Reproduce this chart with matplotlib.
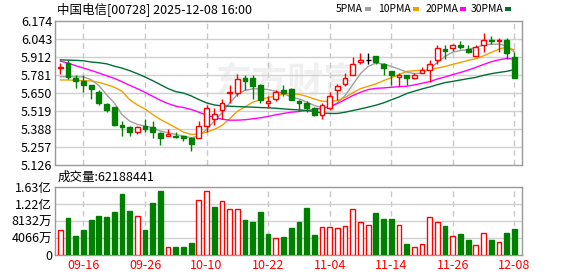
import matplotlib
matplotlib.use('Agg')
import matplotlib.pyplot as plt
from matplotlib.patches import Rectangle

plt.rcParams['font.family'] = ['Noto Sans CJK SC', 'DejaVu Sans']

# trading days shown (HK, 0728)
dates = ['09-11', '09-12', '09-15', '09-16', '09-17', '09-18', '09-19', '09-22',
         '09-23', '09-24', '09-25', '09-26', '09-29', '09-30', '10-02', '10-03',
         '10-06', '10-08', '10-09', '10-10', '10-13', '10-14', '10-15', '10-16',
         '10-17', '10-20', '10-21', '10-22', '10-23', '10-24', '10-27', '10-28',
         '10-30', '10-31', '11-03', '11-04', '11-05', '11-06', '11-07', '11-10',
         '11-11', '11-12', '11-13', '11-14', '11-17', '11-18', '11-19', '11-20',
         '11-21', '11-24', '11-25', '11-26', '11-27', '11-28', '12-01', '12-02',
         '12-03', '12-04', '12-05', '12-08']
tick_dates = ['09-16', '09-26', '10-10', '10-22', '11-04', '11-14', '11-26', '12-08']

opens = [5.83, 5.87, 5.76, 5.74, 5.71, 5.66, 5.57, 5.55, 5.42, 5.40,
         5.37, 5.41, 5.40, 5.36, 5.34, 5.34, 5.34, 5.32, 5.32, 5.41,
         5.46, 5.53, 5.65, 5.65, 5.76, 5.76, 5.71, 5.58, 5.61, 5.67,
         5.68, 5.59, 5.58, 5.54, 5.49, 5.54, 5.67, 5.72, 5.78, 5.88,
         5.89, 5.92, 5.86, 5.81, 5.77, 5.78, 5.76, 5.80, 5.82, 5.89,
         5.97, 5.98, 6.00, 5.97, 5.92, 6.00, 6.04, 6.03, 6.04, 5.91]
highs = [5.87, 5.89, 5.78, 5.78, 5.71, 5.67, 5.58, 5.55, 5.45, 5.41,
         5.41, 5.46, 5.45, 5.37, 5.39, 5.37, 5.34, 5.33, 5.45, 5.56,
         5.54, 5.61, 5.71, 5.79, 5.78, 5.78, 5.72, 5.63, 5.67, 5.71,
         5.69, 5.60, 5.59, 5.55, 5.58, 5.66, 5.72, 5.80, 5.91, 5.94,
         5.94, 5.92, 5.87, 5.81, 5.80, 5.78, 5.80, 5.84, 5.89, 6.00,
         6.00, 6.01, 6.03, 6.00, 6.00, 6.09, 6.07, 6.05, 6.05, 5.95]
lows = [5.79, 5.75, 5.69, 5.66, 5.61, 5.56, 5.51, 5.41, 5.34, 5.34,
        5.35, 5.37, 5.32, 5.27, 5.34, 5.32, 5.30, 5.23, 5.32, 5.37,
        5.42, 5.46, 5.58, 5.63, 5.67, 5.61, 5.58, 5.54, 5.59, 5.63,
        5.60, 5.52, 5.51, 5.48, 5.46, 5.53, 5.60, 5.70, 5.78, 5.86,
        5.86, 5.86, 5.78, 5.71, 5.70, 5.71, 5.75, 5.80, 5.73, 5.86,
        5.90, 5.96, 5.97, 5.94, 5.92, 5.95, 6.01, 5.95, 5.90, 5.76]
closes = [5.84, 5.77, 5.74, 5.71, 5.68, 5.58, 5.53, 5.42, 5.40, 5.37,
          5.40, 5.39, 5.37, 5.32, 5.35, 5.33, 5.32, 5.28, 5.41, 5.54,
          5.50, 5.58, 5.66, 5.75, 5.74, 5.70, 5.60, 5.59, 5.66, 5.65,
          5.60, 5.58, 5.54, 5.49, 5.56, 5.63, 5.70, 5.76, 5.86, 5.89,
          5.89, 5.88, 5.83, 5.78, 5.78, 5.76, 5.78, 5.82, 5.86, 5.98,
          5.96, 6.00, 5.99, 5.95, 5.99, 6.04, 6.03, 6.04, 5.94, 5.76]

ma5 = [5.770, 5.770, 5.770, 5.768, 5.748, 5.705, 5.639, 5.579, 5.494, 5.446,
       5.422, 5.410, 5.398, 5.373, 5.361, 5.349, 5.337, 5.325, 5.337, 5.385,
       5.446, 5.506, 5.579, 5.639, 5.671, 5.681, 5.683, 5.676, 5.664, 5.647,
       5.622, 5.608, 5.586, 5.560, 5.545, 5.548, 5.579, 5.632, 5.712, 5.792,
       5.845, 5.869, 5.862, 5.845, 5.826, 5.804, 5.792, 5.797, 5.826, 5.874,
       5.918, 5.949, 5.961, 5.968, 5.985, 6.000, 6.007, 6.007, 5.995, 5.950]
ma10 = [5.746, 5.746, 5.743, 5.741, 5.739, 5.729, 5.712, 5.693, 5.664, 5.603,
        5.564, 5.535, 5.494, 5.458, 5.429, 5.398, 5.366, 5.349, 5.352, 5.366,
        5.385, 5.414, 5.463, 5.518, 5.550, 5.584, 5.603, 5.618, 5.632, 5.644,
        5.647, 5.642, 5.627, 5.608, 5.591, 5.589, 5.596, 5.618, 5.652, 5.683,
        5.700, 5.717, 5.741, 5.763, 5.785, 5.809, 5.814, 5.816, 5.821, 5.833,
        5.845, 5.860, 5.874, 5.889, 5.901, 5.922, 5.947, 5.971, 5.985, 5.966]
ma20 = [5.884, 5.869, 5.850, 5.833, 5.816, 5.797, 5.777, 5.758, 5.734, 5.707,
        5.683, 5.656, 5.627, 5.598, 5.574, 5.555, 5.545, 5.531, 5.511, 5.489,
        5.473, 5.460, 5.453, 5.453, 5.456, 5.463, 5.470, 5.480, 5.492, 5.502,
        5.511, 5.516, 5.523, 5.531, 5.540, 5.550, 5.574, 5.603, 5.632, 5.656,
        5.676, 5.685, 5.688, 5.693, 5.697, 5.700, 5.710, 5.722, 5.734, 5.753,
        5.768, 5.785, 5.801, 5.818, 5.838, 5.859, 5.879, 5.893, 5.903, 5.898]
ma30 = [5.893, 5.891, 5.889, 5.886, 5.877, 5.872, 5.864, 5.847, 5.833, 5.814,
        5.792, 5.768, 5.741, 5.712, 5.683, 5.661, 5.651, 5.630, 5.603, 5.579,
        5.564, 5.557, 5.555, 5.552, 5.550, 5.548, 5.545, 5.543, 5.540, 5.535,
        5.531, 5.528, 5.523, 5.516, 5.506, 5.502, 5.502, 5.511, 5.523, 5.535,
        5.548, 5.562, 5.579, 5.601, 5.622, 5.647, 5.664, 5.681, 5.695, 5.712,
        5.727, 5.736, 5.746, 5.756, 5.765, 5.780, 5.792, 5.801, 5.809, 5.821]

# volume in 万股
volume = [5948, 8802, 4520, 5948, 8327, 9278, 9040, 10230, 14512, 10468,
          9199, 5948, 12371, 15226, 1824, 1903, 1903, 2855, 13005, 15146,
          11419, 12767, 10864, 10864, 8327, 7851, 10230, 4996, 3965, 4282,
          6423, 7851, 11181, 4758, 6582, 6582, 6344, 6820, 10864, 7851,
          7058, 9992, 8564, 8564, 7058, 2617, 1824, 2538, 8961, 7851,
          6899, 4441, 4996, 3569, 2300, 5155, 3569, 3013, 5234, 6218.8441]

price_ticks = [5.126, 5.257, 5.388, 5.519, 5.650, 5.781, 5.912, 6.043, 6.174]
vol_ticks = [0, 4066, 8132, 12198, 16264]
vol_labels = ['0', '4066万', '8132万', '1.22亿', '1.63亿']
ma_names = ['5PMA', '10PMA', '20PMA', '30PMA']

RED = '#ff0000'
GREEN = '#008000'
GRID = '#d0d0d0'
FRAME = '#999999'
ma_colors = ['#a0a0a0', '#f0a000', '#ff00ff', '#006f36']

W, H = 578, 276
fig = plt.figure(figsize=(W / 100, H / 100), dpi=100)
ax = fig.add_axes([55 / W, 1 - 165 / H, 467 / W, 143.7 / H])
axv = fig.add_axes([55 / W, 1 - 255 / H, 467 / W, 68.3 / H])

x = list(range(len(dates)))
tick_pos = [dates.index(d) for d in tick_dates]
bw = 0.62

for a in (ax, axv):
    a.set_xlim(-0.7, 60.0)
    for s in a.spines.values():
        s.set_color(FRAME)
        s.set_linewidth(1)
    for p in tick_pos:
        a.axvline(p, color='#c8c8c8', lw=1, ls=(0, (4, 3)), zorder=1)
    a.tick_params(length=0, labelsize=9, pad=2)

# watermark
ax.text(0.5, 0.58, '东方财富', transform=ax.transAxes, ha='center', va='center',
        fontsize=26, fontweight='bold', color='#f0f0f0', zorder=0)

# price panel
ax.set_ylim(price_ticks[0], price_ticks[-1])
ax.set_yticks(price_ticks)
ax.set_yticklabels(['%.3f' % t for t in price_ticks])
ax.set_xticks([])
for t in price_ticks[1:-1]:
    ax.axhline(t, color=GRID, lw=1, zorder=1)

for m, c in zip([ma5, ma10, ma20, ma30], ma_colors):
    ax.plot(x, m, color=c, lw=1, zorder=3)

for i in x:
    o, h, l, c = opens[i], highs[i], lows[i], closes[i]
    if c > o:
        col, face = RED, 'white'
    elif c < o:
        col, face = GREEN, GREEN
    else:
        col, face = 'black', 'black'
    ax.vlines(i, l, h, color=col, lw=1, zorder=4)
    if c == o:
        ax.hlines(o, i - bw / 2, i + bw / 2, color=col, lw=1, zorder=5)
    else:
        ax.add_patch(Rectangle((i - bw / 2, min(o, c)), bw, abs(c - o),
                               facecolor=face, edgecolor=col, lw=1, zorder=5))

# volume panel
axv.set_ylim(0, vol_ticks[-1])
axv.set_yticks(vol_ticks)
axv.set_yticklabels(vol_labels)
for t in vol_ticks[1:-1]:
    axv.axhline(t, color=GRID, lw=1, zorder=1)
for i in x:
    up = i == 0 or closes[i] >= closes[i - 1]
    if up:
        axv.add_patch(Rectangle((i - bw / 2, 0), bw, volume[i], facecolor='white',
                                edgecolor=RED, lw=1, zorder=3))
    else:
        axv.add_patch(Rectangle((i - bw / 2, 0), bw, volume[i], facecolor=GREEN,
                                edgecolor=GREEN, lw=1, zorder=3))
axv.set_xticks(tick_pos)
axv.set_xticklabels(tick_dates, color=RED)
axv.tick_params(axis='x', pad=3)

# header texts
fig.text(57 / W, 1 - 9 / H, '中国电信[00728] 2025-12-08 16:00', fontsize=9,
         ha='left', va='center')
fig.text(58 / W, 1 - 177 / H, '成交量:%d' % round(volume[-1] * 10000), fontsize=9,
         ha='left', va='center')

sq_left = [365, 413, 460, 505]
for name, c, sx in zip(ma_names, ma_colors, sq_left):
    fig.text((sx - 2) / W, 1 - 9 / H, name, fontsize=7.5, ha='right', va='center')
    fig.patches.append(Rectangle((sx / W, 1 - 10.5 / H), 6 / W, 3.5 / H,
                                 transform=fig.transFigure, facecolor=c,
                                 edgecolor='none'))

fig.savefig('out.png', dpi=100)
